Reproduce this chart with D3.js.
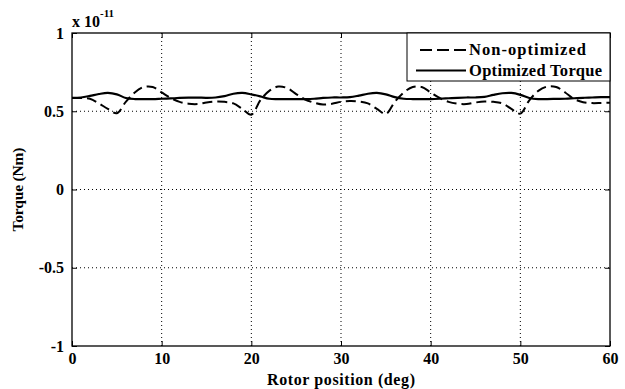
<!DOCTYPE html>
<html>
<head>
<meta charset="utf-8">
<script src="https://cdn.jsdelivr.net/npm/d3@7"></script>
<style>
  html, body { margin: 0; padding: 0; background: #fff; }
  svg text { font-family: "Liberation Serif", "Times New Roman", serif; font-weight: bold; fill: #000; }
</style>
</head>
<body>
<svg id="chart" width="625" height="389"></svg>
<script>
// Rotor position samples (deg)
const rotorPosition = d3.range(0, 61, 1);

// Torque of the non-optimized design (units of 1e-11 Nm)
const nonOptimized = [
  0.585, 0.585, 0.580, 0.550, 0.515, 0.487, 0.560, 0.620, 0.655, 0.655,
  0.620, 0.585, 0.560, 0.548, 0.546, 0.556, 0.562, 0.560, 0.550, 0.515,
  0.478, 0.570, 0.630, 0.658, 0.648, 0.610, 0.575, 0.555, 0.543, 0.548,
  0.560, 0.565, 0.562, 0.550, 0.515, 0.483, 0.560, 0.620, 0.655, 0.655,
  0.620, 0.585, 0.560, 0.548, 0.546, 0.556, 0.562, 0.560, 0.550, 0.515,
  0.485, 0.570, 0.630, 0.658, 0.655, 0.620, 0.578, 0.558, 0.552, 0.553,
  0.555
];

// Torque of the optimized design (units of 1e-11 Nm)
const optimized = [
  0.585, 0.588, 0.598, 0.610, 0.617, 0.608, 0.585, 0.578, 0.578, 0.578,
  0.580, 0.582, 0.585, 0.587, 0.587, 0.586, 0.588, 0.597, 0.612, 0.617,
  0.608, 0.595, 0.580, 0.578, 0.578, 0.578, 0.578, 0.580, 0.585, 0.588,
  0.588, 0.590, 0.600, 0.612, 0.617, 0.608, 0.590, 0.580, 0.578, 0.578,
  0.578, 0.580, 0.583, 0.586, 0.588, 0.588, 0.592, 0.605, 0.615, 0.617,
  0.605, 0.585, 0.578, 0.578, 0.579, 0.580, 0.583, 0.586, 0.588, 0.590,
  0.590
];

const xTicks = [0, 10, 20, 30, 40, 50, 60];
const yTicks = [-1, -0.5, 0, 0.5, 1];
const yTickLabels = ["-1", "-0.5", "0", "0.5", "1"];
const seriesNames = ["Non-optimized", "Optimized Torque"];

const svg = d3.select("#chart");
const plot = { left: 72, right: 610, top: 33, bottom: 346 };

const x = d3.scaleLinear().domain([0, 60]).range([plot.left, plot.right]);
const y = d3.scaleLinear().domain([-1, 1]).range([plot.bottom, plot.top]);

// Dotted grid
const grid = svg.append("g").attr("stroke", "#000").attr("stroke-width", 1)
  .attr("stroke-dasharray", "1,3");
xTicks.filter(t => t > 0 && t < 60).forEach(t => {
  grid.append("line").attr("x1", x(t)).attr("x2", x(t))
    .attr("y1", plot.top).attr("y2", plot.bottom);
});
yTicks.filter(t => t > -1 && t < 1).forEach(t => {
  grid.append("line").attr("x1", plot.left).attr("x2", plot.right)
    .attr("y1", y(t)).attr("y2", y(t));
});

// Axes with inward ticks on all four sides
const tickLen = 5;
const bottomAxis = d3.axisBottom(x).tickValues(xTicks).tickSize(-tickLen).tickPadding(tickLen + 2)
  .tickFormat(d3.format("d"));
const topAxis = d3.axisTop(x).tickValues(xTicks).tickSize(-tickLen).tickFormat("");
const leftAxis = d3.axisLeft(y).tickValues(yTicks).tickSize(-tickLen).tickPadding(tickLen + 3)
  .tickFormat((d, i) => yTickLabels[i]);
const rightAxis = d3.axisRight(y).tickValues(yTicks).tickSize(-tickLen).tickFormat("");

function styleAxis(g) {
  g.select(".domain").remove();
  g.selectAll(".tick line").attr("stroke", "#000").attr("stroke-width", 1);
  g.selectAll(".tick text").style("font-size", "16px").attr("fill", "#000");
}
svg.append("g").attr("transform", `translate(0,${plot.bottom})`).call(bottomAxis).call(styleAxis);
svg.append("g").attr("transform", `translate(0,${plot.top})`).call(topAxis).call(styleAxis);
svg.append("g").attr("transform", `translate(${plot.left},0)`).call(leftAxis).call(styleAxis);
svg.append("g").attr("transform", `translate(${plot.right},0)`).call(rightAxis).call(styleAxis);

// Series
const line = d3.line().x((d, i) => x(rotorPosition[i])).y(d => y(d)).curve(d3.curveCatmullRom);
svg.append("path").datum(optimized).attr("d", line)
  .attr("fill", "none").attr("stroke", "#000").attr("stroke-width", 2.2);
svg.append("path").datum(nonOptimized).attr("d", line)
  .attr("fill", "none").attr("stroke", "#000").attr("stroke-width", 2)
  .attr("stroke-dasharray", "10,5");

// Plot frame
svg.append("rect").attr("x", plot.left).attr("y", plot.top)
  .attr("width", plot.right - plot.left).attr("height", plot.bottom - plot.top)
  .attr("fill", "none").attr("stroke", "#000").attr("stroke-width", 1.3);

// Legend
const legend = svg.append("g");
legend.append("rect").attr("x", 407).attr("y", plot.top).attr("width", plot.right - 407).attr("height", 48)
  .attr("fill", "#fff").attr("stroke", "#000").attr("stroke-width", 1);
legend.append("line").attr("x1", 420).attr("x2", 466).attr("y1", 50).attr("y2", 50)
  .attr("stroke", "#000").attr("stroke-width", 2).attr("stroke-dasharray", "12,5");
legend.append("line").attr("x1", 416).attr("x2", 466).attr("y1", 70.5).attr("y2", 70.5)
  .attr("stroke", "#000").attr("stroke-width", 2);
legend.append("text").attr("x", 469).attr("y", 55).style("font-size", "16.5px")
  .attr("textLength", 117).text(seriesNames[0]);
legend.append("text").attr("x", 469).attr("y", 76).style("font-size", "16.5px")
  .attr("textLength", 133).text(seriesNames[1]);

// Axis labels
svg.append("text").attr("x", (plot.left + plot.right) / 2).attr("y", 385)
  .attr("text-anchor", "middle").style("font-size", "16px")
  .attr("textLength", 148).text("Rotor position (deg)");
svg.append("text").attr("transform", `translate(23,${(plot.top + plot.bottom) / 2}) rotate(-90)`)
  .attr("text-anchor", "middle").style("font-size", "15.5px")
  .attr("textLength", 84).text("Torque (Nm)");

// Exponent marker
const expo = svg.append("text").attr("x", plot.left).attr("y", 27).style("font-size", "16px");
expo.append("tspan").text("x 10");
expo.append("tspan").attr("dy", -10).style("font-size", "11px").text("-11");
</script>
</body>
</html>
